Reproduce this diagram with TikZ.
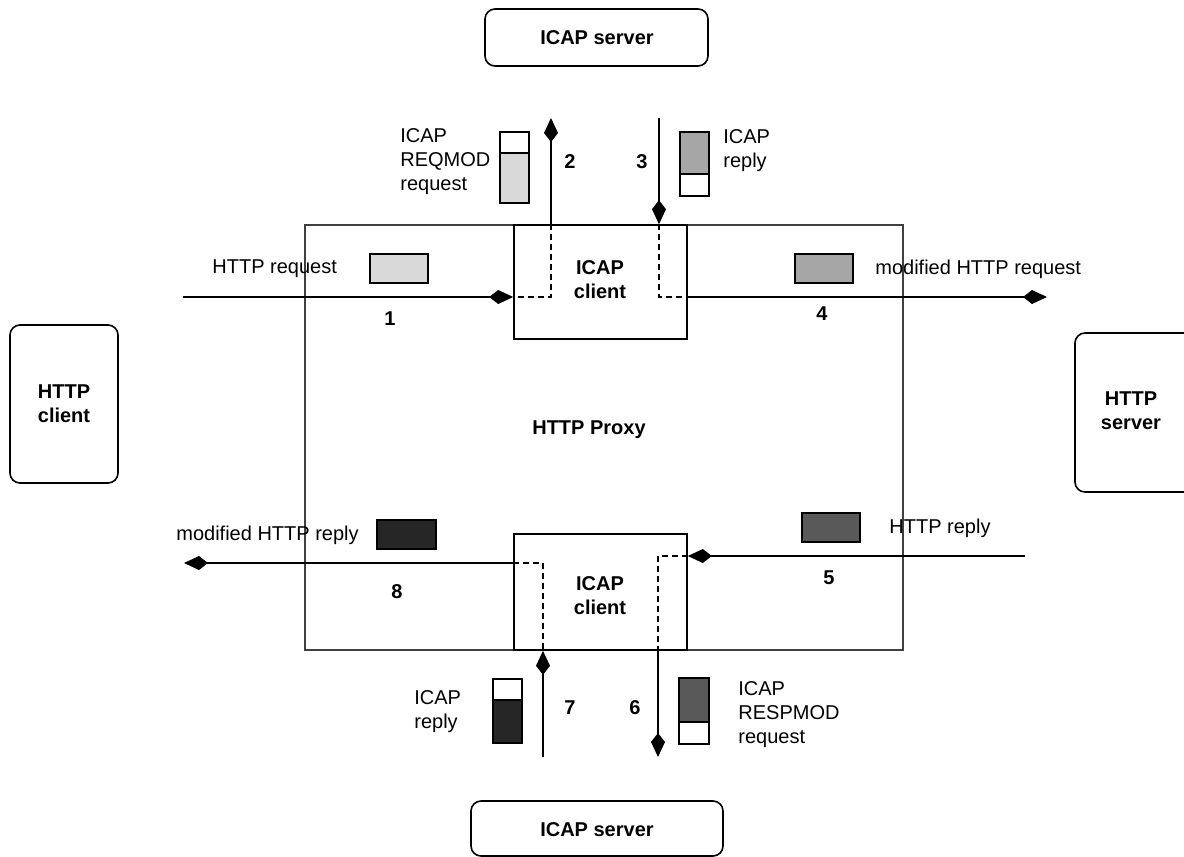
\documentclass[tikz,border=0pt]{standalone}
\usepackage{fontspec}
\setmainfont{Liberation Sans}
\usetikzlibrary{arrows.meta,fit}
\definecolor{gA}{HTML}{D9D9D9}
\definecolor{gB}{HTML}{A6A6A6}
\definecolor{gC}{HTML}{595959}
\definecolor{gD}{HTML}{262626}
\begin{document}
\begin{tikzpicture}[x=0.5pt,y=-0.5pt,
  txt/.style={inner sep=0pt, font=\fontsize{10}{12}\selectfont, align=left},
  btxt/.style={inner sep=0pt, font=\fontsize{10}{12}\selectfont\bfseries, align=center},
  box/.style={draw, line width=0.8pt, inner sep=0pt},
  rbox/.style={box, rounded corners=5pt},
  proxybox/.style={draw=black!75, line width=0.55pt, inner sep=0pt},
  msg/.style={draw, line width=0.7pt, inner sep=0pt},
  flow/.style={line width=0.7pt, -{Kite[length=12pt,width=7pt,inset=4.5pt]}},
  dsh/.style={line width=0.6pt, dash pattern=on 3pt off 2pt}]
\useasboundingbox (0,0) rectangle (1184,857);
\clip (0,0) rectangle (1184,857);

% outer boxes
\node[rbox, fit={(485,9)(708,66)}] (srvT) {};
\node[btxt] (srvTt) at (597,38) {ICAP server};
\node[rbox, fit={(471,801)(723,856)}] (srvB) {};
\node[btxt] (srvBt) at (597,830) {ICAP server};
\node[rbox, fit={(10,325)(118,483)}] (hcli) {};
\node[btxt] (hclit) at (64,404) {HTTP\\client};
\node[rbox, fit={(1075,333)(1210,492)}] (hsrv) {};
\node[btxt] (hsrvt) at (1131,411) {HTTP\\server};

% proxy
\node[proxybox, fit={(305,225)(903,650)}] (proxy) {};
\node[btxt] (proxyt) at (589,430) {HTTP Proxy};

% ICAP clients
\node[box, fill=white, fit={(514,225)(687,339)}] (cliT) {};
\node[btxt] (cliTt) at (600,280) {ICAP\\client};
\node[box, fill=white, fit={(514,534)(687,650)}] (cliB) {};
\node[btxt] (cliBt) at (600,596) {ICAP\\client};

% coordinates
\coordinate (a1) at (183,297);
\coordinate (a4) at (1047,297);
\coordinate (t2) at (551,118);
\coordinate (t3) at (659,118);
\coordinate (a5) at (1025,556);
\coordinate (a8) at (184,563);
\coordinate (b7) at (543,757);
\coordinate (b6) at (658,757);

% dashed internal paths
\draw[dsh] (t2 |- cliT.north) |- (a1 -| cliT.west);
\draw[dsh] (t3 |- cliT.north) |- (a4 -| cliT.east);
\draw[dsh] (a8 -| cliB.west) -| (b7 |- cliB.south);
\draw[dsh] (a5 -| cliB.east) -| (b6 |- cliB.south);

% flows
\draw[flow] (a1) -- (a1 -| cliT.west);
\draw[flow] (a4 -| cliT.east) -- (a4);
\draw[flow] (t2 |- cliT.north) -- (t2);
\draw[flow] (t3) -- (t3 |- cliT.north);
\draw[flow] (a5) -- (a5 -| cliB.east);
\draw[flow] (a8 -| cliB.west) -- (a8);
\draw[flow] (b7) -- (b7 |- cliB.south);
\draw[flow] (b6 |- cliB.south) -- (b6);

% step numbers
\node[btxt] (n1) at (390,319) {1};
\node[btxt] (n2) at (570,162) {2};
\node[btxt] (n3) at (642,162) {3};
\node[btxt] (n4) at (822,314) {4};
\node[btxt] (n5) at (829,578) {5};
\node[btxt] (n6) at (635,708) {6};
\node[btxt] (n7) at (570,708) {7};
\node[btxt] (n8) at (397,592) {8};

% message icons
\node[msg, fill=gA, fit={(370,254)(428,283)}] (m1) {};
\node[txt, anchor=west] (m1t) at (212,269) {HTTP request};
\node[msg, fill=gB, fit={(795,254)(853,283)}] (m4) {};
\node[txt, anchor=west] (m4t) at (875,269) {modified HTTP request};

\fill[gA] (500,153) rectangle (529,203);
\node[msg, fit={(500,132)(529,203)}] (m2) {};
\draw[line width=0.7pt] (500,153) -- (529,153);
\node[txt, anchor=west] (m2t) at (400,162) {ICAP\\REQMOD\\request};

\fill[gB] (680,132) rectangle (709,174);
\node[msg, fit={(680,132)(709,196)}] (m3) {};
\draw[line width=0.7pt] (680,174) -- (709,174);
\node[txt, anchor=west] (m3t) at (723,151) {ICAP\\reply};

\node[msg, fill=gC, fit={(802,513)(860,542)}] (m5) {};
\node[txt, anchor=west] (m5t) at (889,528) {HTTP reply};
\node[msg, fill=gD, fit={(377,520)(436,549)}] (m8) {};
\node[txt, anchor=west] (m8t) at (176,535) {modified HTTP reply};

\fill[gC] (679,678) rectangle (709,722);
\node[msg, fit={(679,678)(709,744)}] (m6) {};
\draw[line width=0.7pt] (679,722) -- (709,722);
\node[txt, anchor=west] (m6t) at (738,715) {ICAP\\RESPMOD\\request};

\fill[gD] (493,700) rectangle (522,743);
\node[msg, fit={(493,679)(522,743)}] (m7) {};
\draw[line width=0.7pt] (493,700) -- (522,700);
\node[txt, anchor=west] (m7t) at (414,712) {ICAP\\reply};
\end{tikzpicture}
\end{document}
